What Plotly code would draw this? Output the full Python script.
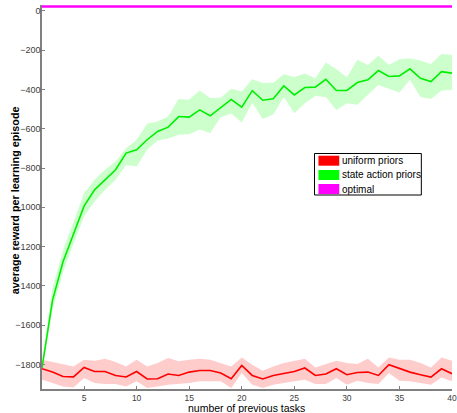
import plotly.graph_objects as go

tasks = list(range(1, 41))

state_action_mean = [-1818, -1474, -1277, -1130, -994, -911, -860, -809, -724, -707,
                     -656, -614, -592, -538, -541, -504, -534, -491, -451, -490,
                     -406, -455, -447, -382, -428, -390, -388, -348, -405, -405,
                     -365, -351, -304, -334, -331, -295, -343, -360, -309, -317]
state_action_upper = [-1795, -1411, -1220, -1070, -928, -860, -809, -767, -699, -656,
                      -575, -563, -538, -449, -453, -405, -444, -442, -397, -410,
                      -348, -367, -366, -323, -336, -319, -343, -263, -297, -338,
                      -249, -275, -229, -275, -246, -243, -253, -270, -219, -224]
state_action_lower = [-1830, -1521, -1330, -1185, -1047, -970, -911, -860, -784, -792,
                      -707, -660, -650, -631, -628, -604, -622, -542, -523, -568,
                      -468, -550, -528, -439, -521, -470, -433, -439, -504, -470,
                      -478, -427, -377, -398, -416, -351, -439, -449, -405, -402]

uniform_mean = [-1822, -1839, -1861, -1863, -1815, -1836, -1836, -1856, -1864, -1836,
                -1874, -1873, -1849, -1856, -1839, -1831, -1831, -1844, -1873, -1805,
                -1856, -1874, -1856, -1847, -1836, -1818, -1856, -1849, -1822, -1852,
                -1841, -1839, -1856, -1801, -1822, -1839, -1852, -1864, -1822, -1847]
uniform_upper = [-1776, -1788, -1798, -1810, -1776, -1781, -1771, -1788, -1810, -1776,
                 -1810, -1793, -1767, -1784, -1776, -1771, -1776, -1793, -1810, -1764,
                 -1801, -1832, -1810, -1793, -1781, -1771, -1815, -1798, -1781, -1793,
                 -1798, -1771, -1815, -1764, -1776, -1776, -1793, -1815, -1764, -1781]
uniform_lower = [-1878, -1895, -1912, -1917, -1869, -1895, -1900, -1900, -1912, -1886,
                 -1920, -1912, -1903, -1900, -1895, -1886, -1886, -1886, -1920, -1844,
                 -1903, -1920, -1903, -1895, -1886, -1878, -1900, -1900, -1869, -1903,
                 -1883, -1895, -1900, -1844, -1883, -1886, -1895, -1903, -1866, -1886]

optimal_value = 22
optimal = [optimal_value] * len(tasks)

y_ticks = [0, -200, -400, -600, -800, -1000, -1200, -1400, -1600, -1800]
x_ticks = [5, 10, 15, 20, 25, 30, 35, 40]

legend_labels = ["uniform priors", "state action priors", "optimal"]
legend_colors = ["#ff0000", "#00ff00", "#ff00ff"]

W, H = 457, 413
L, R, T, B = 42, 0.5, 5, 24

fig = go.Figure()

def band(upper, lower, color):
    return go.Scatter(x=tasks + tasks[::-1], y=upper + lower[::-1], fill="toself",
                      fillcolor=color, line=dict(width=0), mode="lines",
                      hoverinfo="skip", showlegend=False)

fig.add_trace(band(state_action_upper, state_action_lower, "#ccffcc"))
fig.add_trace(band(uniform_upper, uniform_lower, "#ffcccc"))
fig.add_trace(go.Scatter(x=tasks, y=state_action_mean, mode="lines",
                         line=dict(color="#00ee00", width=1.6), showlegend=False))
fig.add_trace(go.Scatter(x=tasks, y=uniform_mean, mode="lines",
                         line=dict(color="#ff0000", width=1.6), showlegend=False))
fig.add_trace(go.Scatter(x=tasks, y=optimal, mode="lines",
                         line=dict(color="#ff00ff", width=2.5), showlegend=False, cliponaxis=False))

pw = W - L - R
ph = H - T - B

def px(x):
    return (x - L) / pw

def py(y):
    return 1 - (y - T) / ph

shapes = []
annotations = []
# legend box
shapes.append(dict(type="rect", xref="paper", yref="paper",
                   x0=px(317.5), x1=px(425.5), y0=py(195), y1=py(153.5),
                   line=dict(color="black", width=1), fillcolor="white", layer="above"))
row_centers = [160.7, 175, 189]
for lab, col, yc in zip(legend_labels, legend_colors, row_centers):
    shapes.append(dict(type="rect", xref="paper", yref="paper",
                       x0=px(321.5), x1=px(342.5), y0=py(yc + 5), y1=py(yc - 5),
                       line=dict(width=0), fillcolor=col, layer="above"))
    annotations.append(dict(text=lab, xref="paper", yref="paper", x=px(343.5), y=py(yc),
                            xanchor="left", yanchor="middle", showarrow=False,
                            font=dict(family="Liberation Sans, Arial", size=10, color="black")))

annotations.append(dict(text="number of previous tasks", xref="paper", yref="paper",
                        x=px(249), y=py(408), xanchor="center", yanchor="middle", showarrow=False,
                        font=dict(family="Liberation Sans, Arial", size=10.5, color="black")))
annotations.append(dict(text="<b>average reward per learning episode</b>", xref="paper", yref="paper",
                        x=px(15), y=py(200), xanchor="center", yanchor="middle", showarrow=False,
                        textangle=-90,
                        font=dict(family="Liberation Sans, Arial", size=10.8, color="black")))

fig.update_layout(
    width=W, height=H,
    margin=dict(l=L, r=R, t=T, b=B, pad=0),
    paper_bgcolor="white", plot_bgcolor="white",
    shapes=shapes, annotations=annotations,
    xaxis=dict(range=[1, 40], tickvals=x_ticks, ticks="inside", ticklen=3,
               tickcolor="#808080", showline=True, linecolor="#808080", linewidth=1.5,
               showgrid=False, zeroline=False, ticklabeloverflow="allow",
               tickfont=dict(family="Liberation Sans, Arial", size=8.5, color="#404040")),
    yaxis=dict(range=[-1925, 30], tickvals=y_ticks, ticks="inside", ticklen=3,
               tickcolor="#808080", showline=True, linecolor="#808080", linewidth=1.5,
               showgrid=False, zeroline=False, ticklabelstandoff=-2,
               tickfont=dict(family="Liberation Sans Narrow, Arial Narrow, Liberation Sans", size=9, color="#404040")),
)

fig.write_html("out.html", config={"displayModeBar": False},
               post_script="document.body.style.margin='0px';document.body.style.overflow='hidden';")
